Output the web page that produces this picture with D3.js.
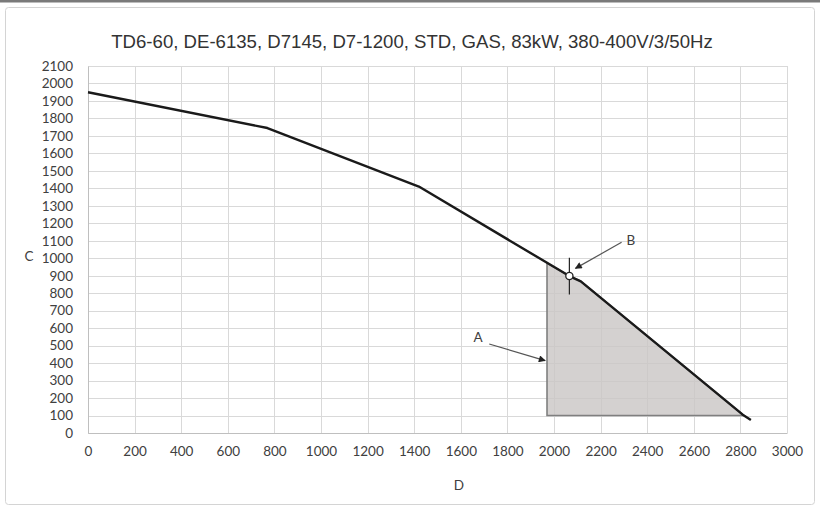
<!DOCTYPE html>
<html>
<head>
<meta charset="utf-8">
<script src="https://cdn.jsdelivr.net/npm/d3@7"></script>
<style>
  body { margin: 0; background: #fff; }
  svg { display: block; }
</style>
</head>
<body>
<svg id="chart" width="820" height="507"></svg>
<script>
// curve
const curveD = [0, 770, 1420, 2066, 2115, 2810, 2845];
const curveC = [1950, 1745, 1410, 898, 868, 105, 75];

// shaded working range (A)
const areaD = [1970, 1970, 2066, 2115, 2815];
const areaC = [100, 972, 898, 868, 100];

// point B
const pointB = [2066, 898];

const xTicks = d3.range(0, 3001, 200);
const yTicks = d3.range(0, 2101, 100);

const title = "TD6-60, DE-6135, D7145, D7-1200, STD, GAS, 83kW, 380-400V/3/50Hz";

const svg = d3.select("#chart");
const x = d3.scaleLinear().domain([0, 3000]).range([88, 787]);
const y = d3.scaleLinear().domain([0, 2100]).range([433, 66]);

const tickFont = "Lato, 'Open Sans', sans-serif";

// outer frame
svg.append("rect")
    .attr("x", 0).attr("y", 0).attr("width", 820).attr("height", 2.5)
    .attr("fill", "#7a7a7a");
svg.append("rect")
    .attr("x", 5.5).attr("y", 7.5).attr("width", 809).attr("height", 497)
    .attr("rx", 3)
    .attr("fill", "#fff").attr("stroke", "#d4d4d4");

// title
svg.append("text")
    .attr("x", 412).attr("y", 48)
    .attr("text-anchor", "middle")
    .attr("font-family", "'Liberation Sans', Arial, sans-serif")
    .attr("font-size", 18.6)
    .attr("fill", "#333")
    .text(title);

// grid
const grid = svg.append("g").attr("stroke", "#d9d9d9").attr("stroke-width", 1);
grid.selectAll(".gx").data(xTicks).join("line")
    .attr("x1", d => Math.round(x(d)) + 0.5).attr("x2", d => Math.round(x(d)) + 0.5)
    .attr("y1", y(0)).attr("y2", y(2100));
grid.selectAll(".gy").data(yTicks).join("line")
    .attr("y1", d => Math.round(y(d)) + 0.5).attr("y2", d => Math.round(y(d)) + 0.5)
    .attr("x1", x(0)).attr("x2", x(3000));

// axes (labels only, no tick marks)
const fmt = d3.format("d");
const xAxis = svg.append("g")
    .attr("transform", `translate(0,${y(0)})`)
    .call(d3.axisBottom(x).tickValues(xTicks).tickFormat(fmt).tickSize(0).tickPadding(13));
const yAxis = svg.append("g")
    .attr("transform", `translate(${x(0)},0)`)
    .call(d3.axisLeft(y).tickValues(yTicks).tickFormat(fmt).tickSize(0).tickPadding(15));
[xAxis, yAxis].forEach(ax => {
    ax.select(".domain").attr("stroke", "#bfbfbf");
    ax.selectAll("text")
        .attr("font-family", tickFont)
        .attr("font-size", 13.5)
        .attr("fill", "#404040");
});

// axis titles
svg.append("text")
    .attr("x", 29).attr("y", 261)
    .attr("text-anchor", "middle")
    .attr("font-family", tickFont).attr("font-size", 13.5).attr("fill", "#404040")
    .text("C");
svg.append("text")
    .attr("x", 459).attr("y", 490)
    .attr("text-anchor", "middle")
    .attr("font-family", tickFont).attr("font-size", 13.5).attr("fill", "#404040")
    .text("D");

// shaded area
const areaPts = areaD.map((d, i) => [x(d), y(areaC[i])]);
svg.append("path")
    .attr("d", d3.line()(areaPts) + "Z")
    .attr("fill", "#c9c6c4").attr("fill-opacity", 0.8)
    .attr("stroke", "#7f7f7f").attr("stroke-width", 1.6);

// main curve
const curvePts = curveD.map((d, i) => [x(d), y(curveC[i])]);
svg.append("path")
    .attr("d", d3.line()(curvePts))
    .attr("fill", "none")
    .attr("stroke", "#1a1a1a").attr("stroke-width", 2.4)
    .attr("stroke-linejoin", "round");

// point B marker
svg.append("line")
    .attr("x1", x(pointB[0])).attr("x2", x(pointB[0]))
    .attr("y1", y(pointB[1] + 105)).attr("y2", y(pointB[1] - 105))
    .attr("stroke", "#222").attr("stroke-width", 1.2);
svg.append("circle")
    .attr("cx", x(pointB[0])).attr("cy", y(pointB[1])).attr("r", 3.6)
    .attr("fill", "#fff").attr("stroke", "#222").attr("stroke-width", 1.3);

// annotation arrows
const defs = svg.append("defs");
defs.append("marker")
    .attr("id", "head")
    .attr("viewBox", "0 0 10 10")
    .attr("refX", 9).attr("refY", 5)
    .attr("markerWidth", 9).attr("markerHeight", 7)
    .attr("markerUnits", "userSpaceOnUse")
    .attr("orient", "auto")
    .append("path").attr("d", "M0,0L10,5L0,10Z").attr("fill", "#222");

const notes = [
    { label: "A", lx: 1674, ly: 549, from: [1722, 509], to: [1962, 414] },
    { label: "B", lx: 2330, ly: 1104, from: [2290, 1091], to: [2092, 942] }
];
notes.forEach(n => {
    svg.append("line")
        .attr("x1", x(n.from[0])).attr("y1", y(n.from[1]))
        .attr("x2", x(n.to[0])).attr("y2", y(n.to[1]))
        .attr("stroke", "#555").attr("stroke-width", 1.2)
        .attr("marker-end", "url(#head)");
    svg.append("text")
        .attr("x", x(n.lx)).attr("y", y(n.ly) + 5)
        .attr("text-anchor", "middle")
        .attr("font-family", tickFont).attr("font-size", 13.5).attr("fill", "#404040")
        .text(n.label);
});
</script>
</body>
</html>
